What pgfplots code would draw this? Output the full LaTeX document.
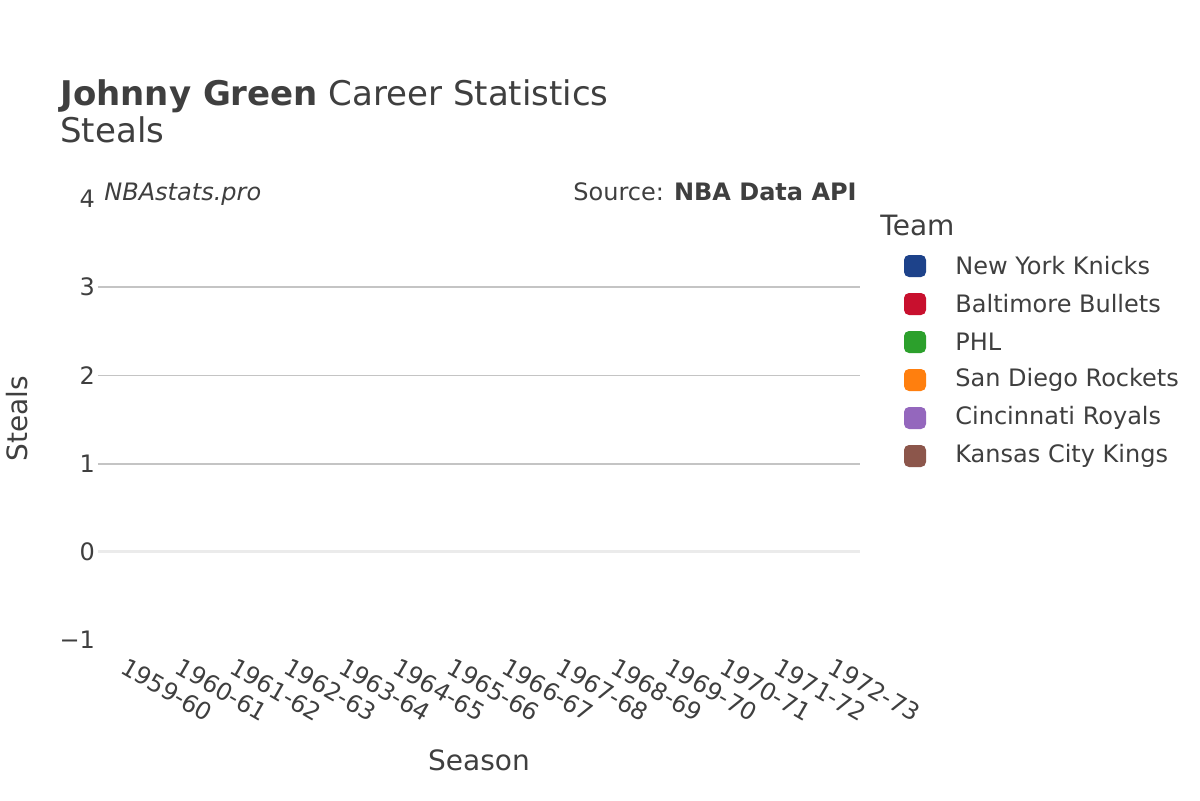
\documentclass[border=0pt]{standalone}
\usepackage{pgfplots}
\pgfplotsset{compat=1.18}
\usepackage{fontspec}
\setmainfont{DejaVu Sans}
\definecolor{txt}{HTML}{3F3F3F}
\definecolor{gridc}{HTML}{C4C4C4}
\definecolor{zeroc}{HTML}{EBEBEB}
\definecolor{nyk}{HTML}{1D428A}
\definecolor{bal}{HTML}{C8102E}
\definecolor{phl}{HTML}{2CA02C}
\definecolor{sdr}{HTML}{FF7F0E}
\definecolor{cin}{HTML}{9467BD}
\definecolor{kck}{HTML}{8C564B}

\begin{document}
\begin{tikzpicture}[x=0.5pt,y=0.5pt]
\path[use as bounding box, fill=white] (0,0) rectangle (1200,800);
\begin{axis}[
    at={(49pt,80pt)}, anchor=south west,
    scale only axis,
    width=381pt, height=220.5pt,
    xmin=-0.5, xmax=13.5,
    ymin=-1, ymax=4,
    axis line style={draw=none},
    tick style={draw=none},
    ytick={-1,0,1,2,3,4},
    yticklabels={−1,0,1,2,3,4},
    yticklabel style={font=\fontsize{12}{14}\selectfont, color=txt, anchor=east, xshift=2pt},
    xtick={0,...,13},
    xticklabels={1959-60,1960-61,1961-62,1962-63,1963-64,1964-65,1965-66,1966-67,1967-68,1968-69,1969-70,1970-71,1971-72,1972-73},
    xticklabel style={font=\fontsize{12}{14}\selectfont, color=txt, rotate=-30, anchor=north west, xshift=2pt, yshift=-3pt},
    clip=false,
]
\draw[gridc, line width=0.9pt] (axis cs:-0.5,1) -- (axis cs:13.5,1);
\draw[gridc, line width=0.9pt] (axis cs:-0.5,2) -- (axis cs:13.5,2);
\draw[gridc, line width=0.9pt] (axis cs:-0.5,3) -- (axis cs:13.5,3);
\draw[zeroc, line width=1.5pt] (axis cs:-0.5,0) -- (axis cs:13.5,0);
\end{axis}

% titles
\node[anchor=base west, text=txt, font=\fontsize{17}{20}\selectfont, inner sep=0pt] at (60,695) {\textbf{Johnny Green} Career Statistics};
\node[anchor=base west, text=txt, font=\fontsize{17}{20}\selectfont, inner sep=0pt] at (60,657) {Steals};
\node[anchor=base west, text=txt, font=\fontsize{12}{14}\selectfont\itshape, inner sep=0pt] at (104,600) {NBAstats.pro};
\node[anchor=base east, text=txt, font=\fontsize{12}{14}\selectfont, inner sep=0pt] at (857,600) {Source: \textbf{NBA Data API}};

% axis titles
\node[text=txt, font=\fontsize{14}{16}\selectfont, rotate=90, inner sep=0pt] at (17,381) {Steals};
\node[text=txt, font=\fontsize{14}{16}\selectfont, inner sep=0pt] at (479,40) {Season};

% legend
\node[anchor=base west, text=txt, font=\fontsize{14}{16}\selectfont, inner sep=0pt] at (880,565) {Team};
\foreach \c/\t [count=\i from 0] in {nyk/New York Knicks, bal/Baltimore Bullets, phl/PHL, sdr/San Diego Rockets, cin/Cincinnati Royals, kck/Kansas City Kings}{
  \fill[\c, rounded corners=2.5pt] (904,{534-38*\i-11}) rectangle (926,{534-38*\i+11});
  \node[anchor=west, text=txt, font=\fontsize{12}{14}\selectfont, inner sep=0pt] at (955,{534-38*\i}) {\t};
}
\end{tikzpicture}
\end{document}
